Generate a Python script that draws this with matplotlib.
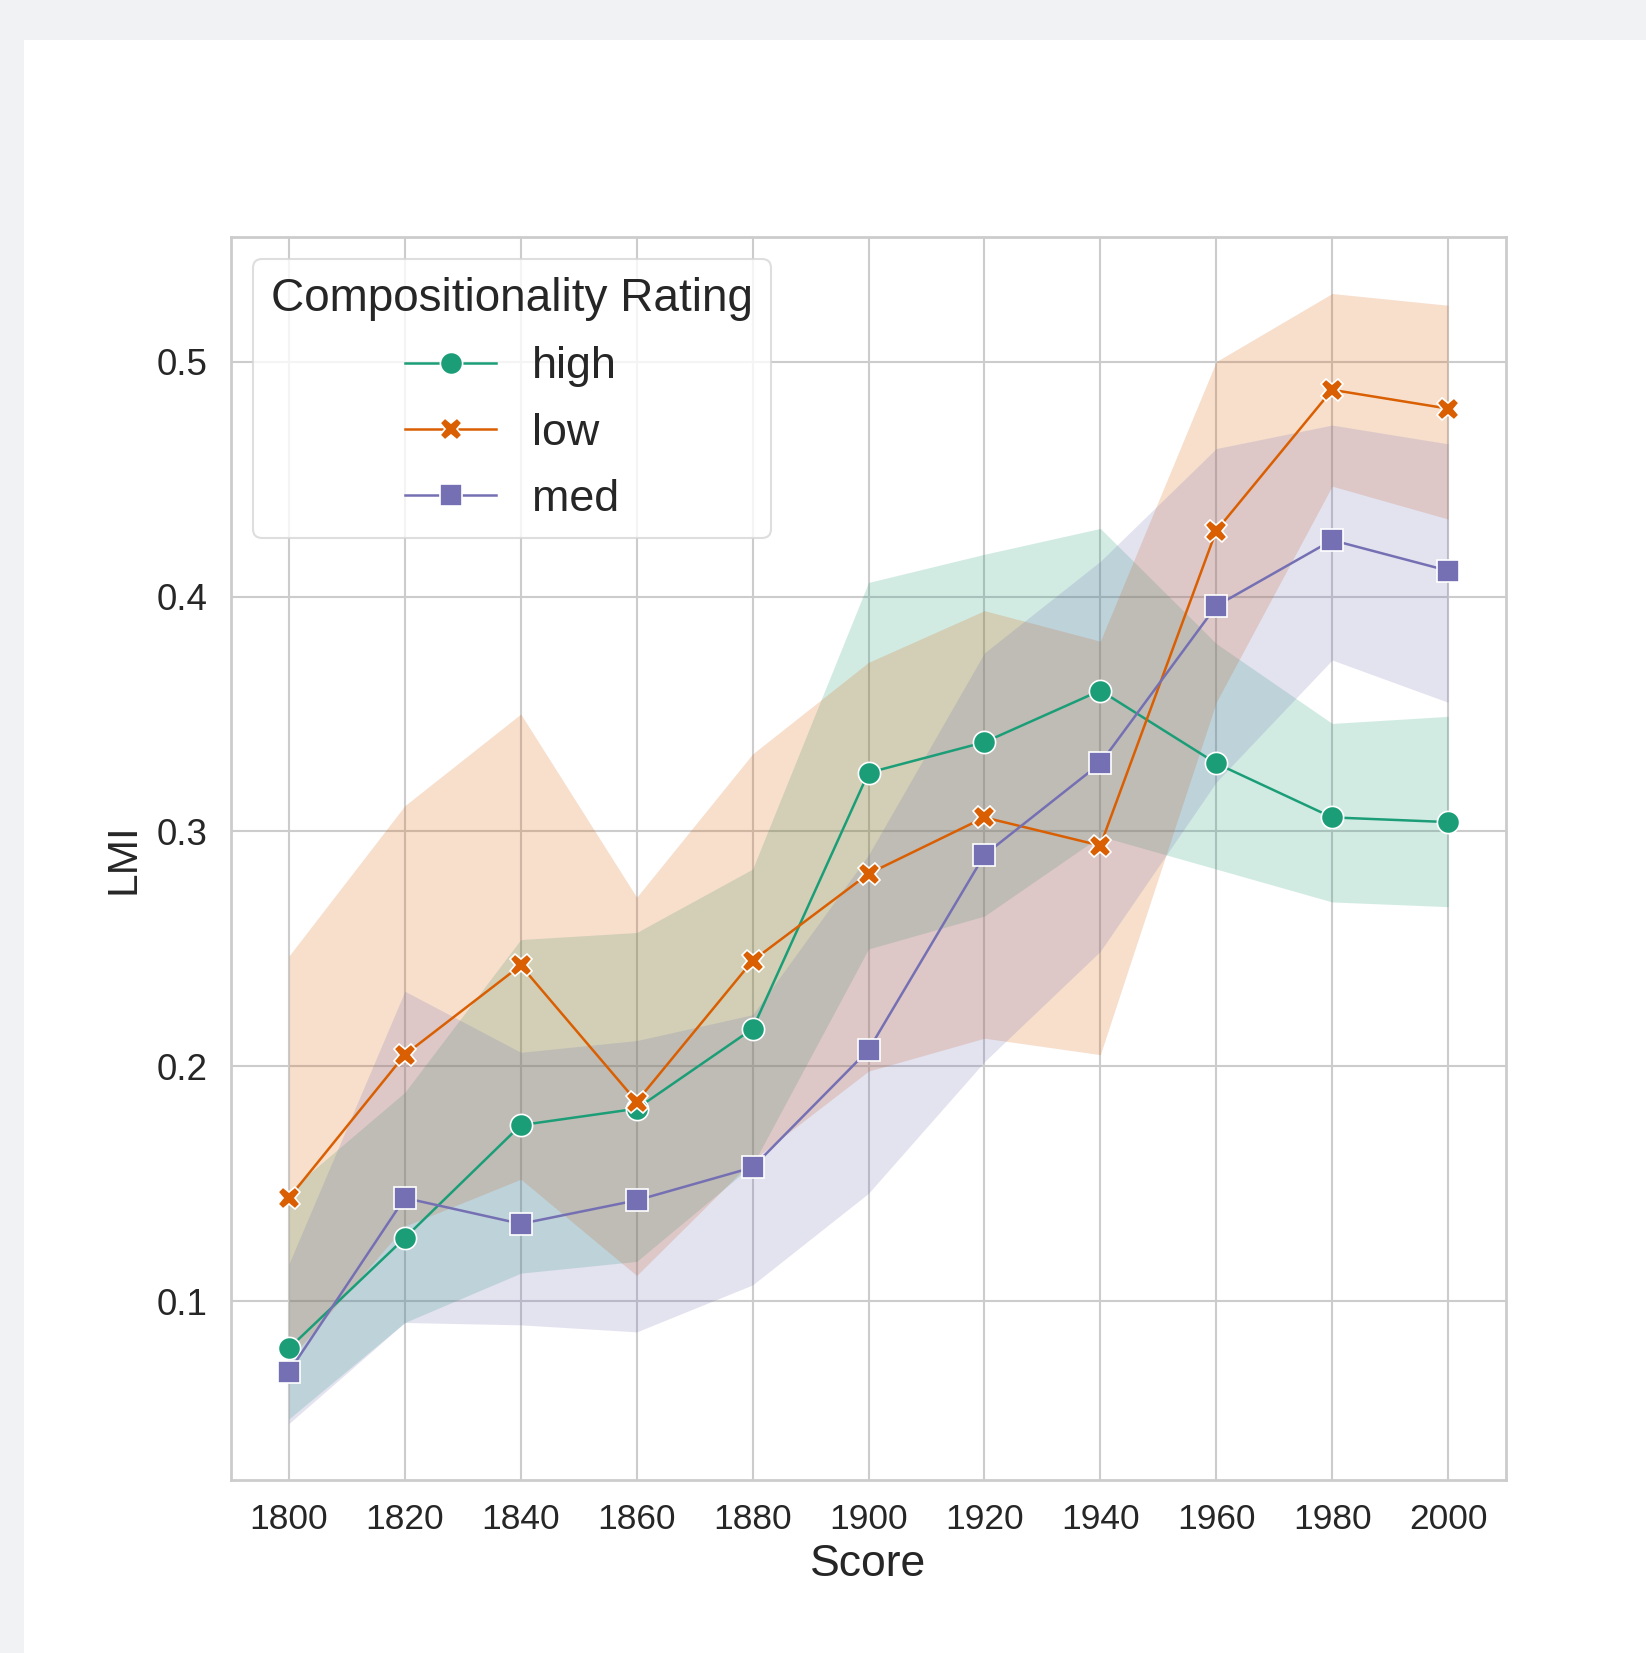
import matplotlib
matplotlib.use("Agg")
import matplotlib.pyplot as plt
from matplotlib.patches import Rectangle

plt.rcParams['font.family'] = ['Liberation Sans', 'DejaVu Sans']

years = [1800, 1820, 1840, 1860, 1880, 1900, 1920, 1940, 1960, 1980, 2000]
categories = ["high", "low", "med"]

high_mean = [0.080, 0.127, 0.175, 0.182, 0.216, 0.325, 0.338, 0.360, 0.329, 0.306, 0.304]
high_low = [0.050, 0.091, 0.112, 0.117, 0.158, 0.250, 0.264, 0.298, 0.284, 0.270, 0.268]
high_up = [0.147, 0.189, 0.254, 0.257, 0.284, 0.406, 0.418, 0.429, 0.380, 0.346, 0.349]

low_mean = [0.144, 0.205, 0.243, 0.185, 0.245, 0.282, 0.306, 0.294, 0.428, 0.488, 0.480]
low_low = [0.075, 0.132, 0.152, 0.111, 0.160, 0.198, 0.212, 0.205, 0.355, 0.447, 0.433]
low_up = [0.247, 0.311, 0.350, 0.272, 0.333, 0.372, 0.394, 0.381, 0.500, 0.529, 0.524]

med_mean = [0.070, 0.144, 0.133, 0.143, 0.157, 0.207, 0.290, 0.329, 0.396, 0.424, 0.411]
med_low = [0.048, 0.091, 0.090, 0.087, 0.107, 0.146, 0.202, 0.249, 0.321, 0.373, 0.355]
med_up = [0.116, 0.232, 0.206, 0.211, 0.222, 0.290, 0.376, 0.415, 0.463, 0.473, 0.465]

xticks = [1800, 1820, 1840, 1860, 1880, 1900, 1920, 1940, 1960, 1980, 2000]
yticks = [0.1, 0.2, 0.3, 0.4, 0.5]

colors = ["#1b9e77", "#d95f02", "#7570b3"]
markers = ["o", "X", "s"]
series = [(high_mean, high_low, high_up), (low_mean, low_low, low_up), (med_mean, med_low, med_up)]

fig = plt.figure(figsize=(16.46, 16.53), dpi=100, facecolor="#f1f2f4")
bg = Rectangle((24 / 1646, 0), 1 - 24 / 1646, 1 - 40 / 1653,
               transform=fig.transFigure, facecolor="white",
               edgecolor="none", zorder=-10)
fig.add_artist(bg)

ax = fig.add_axes([231 / 1646, 1 - 1480 / 1653, (1506 - 231) / 1646, (1480 - 237) / 1653])
ax.set_zorder(1)
ax.set_facecolor("white")

for name, (m, lo, up), c, mk in zip(categories, series, colors, markers):
    ax.plot(years, m, color=c, marker=mk, markersize=16, linewidth=1.8,
            markeredgecolor="white", markeredgewidth=1.2, label=name, zorder=3)
    ax.fill_between(years, lo, up, color=c, alpha=0.2, linewidth=0, zorder=1)

ax.set_xticks(xticks)
ax.set_xticklabels([str(t) for t in xticks])
ax.set_yticks(yticks)
ax.set_yticklabels([f"{t:.1f}" for t in yticks])
ax.margins(x=0.05, y=0.05)

ax.grid(True, color="#cccccc", linewidth=1.5, zorder=0)
ax.set_axisbelow(True)
for s in ax.spines.values():
    s.set_color("#cccccc")
    s.set_linewidth(2)
ax.tick_params(axis="both", length=0, colors="#262626")
ax.tick_params(axis="x", pad=16.5, labelsize=25.5)
ax.tick_params(axis="y", pad=17, labelsize=26.5)

ax.set_xlabel("Score", fontsize=32, color="#262626", labelpad=6)
ax.set_ylabel("LMI", fontsize=30.5, color="#262626", labelpad=9)

leg = ax.legend(title="Compositionality Rating", loc="upper left", fontsize=32.3,
                title_fontsize=33, frameon=True, fancybox=True, framealpha=0.8,
                labelspacing=0.56, handlelength=2.03)
leg.get_frame().set_edgecolor("#d6d6d6")
leg.get_frame().set_linewidth(1.5)
plt.setp(leg.get_title(), color="#262626")
for t in leg.get_texts():
    t.set_color("#262626")

fig.savefig("out.png", dpi=100, facecolor=fig.get_facecolor())
